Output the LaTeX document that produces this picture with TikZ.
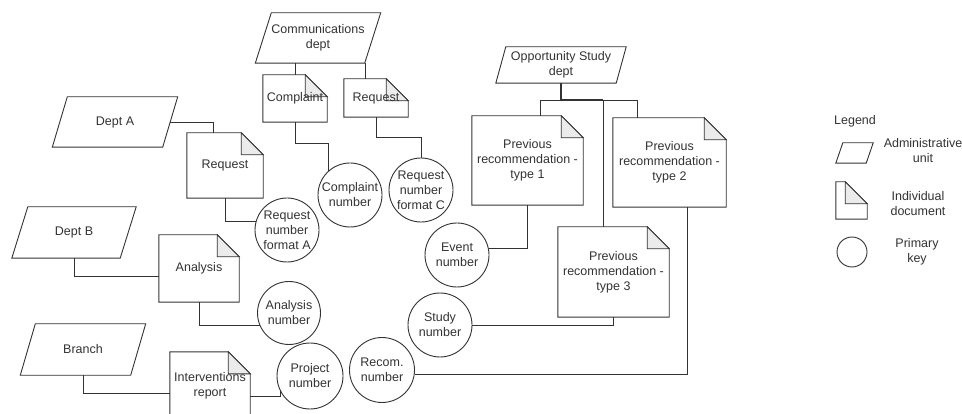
\documentclass[tikz,border=0pt]{standalone}
\usepackage{fontspec}
\setmainfont{Liberation Sans}
\usetikzlibrary{backgrounds}
\definecolor{ink}{HTML}{333333}
\definecolor{foldgray}{HTML}{EBEBEB}
\tikzset{
  shp/.style={draw=ink, line width=0.9pt, line join=miter},
  conn/.style={draw=ink, line width=0.9pt},
  thickconn/.style={draw=ink, line width=1.8pt},
  lbl/.style={text=ink, font=\fontsize{12.5}{15}\selectfont, align=center, inner sep=0pt},
  boxn/.style={lbl, shape=rectangle, draw=none},
  keycirc/.style={lbl, shape=circle, draw=ink, line width=0.9pt},
}
\newcommand\mkdoc[1]{%
  \begin{pgfonlayer}{background}
    \draw[shp,fill=white] (#1.north west) -- ([xshift=-22pt]#1.north east) -- ([yshift=-22pt]#1.north east) -- (#1.south east) -- (#1.south west) -- cycle;
    \draw[shp,fill=foldgray] ([xshift=-22pt]#1.north east) -- ([xshift=-22pt,yshift=-22pt]#1.north east) -- ([yshift=-22pt]#1.north east) -- cycle;
  \end{pgfonlayer}}
\newcommand\mkpara[2]{%
  \begin{pgfonlayer}{background}
    \draw[shp,fill=white] ([xshift=#2pt]#1.north west) -- ([xshift=#2pt]#1.north east) -- ([xshift=-#2pt]#1.south east) -- ([xshift=-#2pt]#1.south west) -- cycle;
  \end{pgfonlayer}}
\begin{document}
\begin{tikzpicture}[x=1pt,y=-1pt]
\useasboundingbox (0,0) rectangle (962,414);
\begin{pgfonlayer}{background}
  \fill[white] (0,0) rectangle (962,414);
\end{pgfonlayer}

% administrative units
\node[boxn, minimum width=110pt, minimum height=50pt] (dA) at (115,122) {Dept A};
\mkpara{dA}{7.5}
\node[boxn, minimum width=108pt, minimum height=51pt] (dB) at (74,232.5) {Dept B};
\mkpara{dB}{8}
\node[boxn, minimum width=110pt, minimum height=51pt] (br) at (83,349.5) {Branch};
\mkpara{br}{7.5}
\node[boxn, minimum width=109pt, minimum height=50pt] (cm) at (318,38) {Communications\\dept};
\mkpara{cm}{8}
\node[boxn, minimum width=120pt, minimum height=36pt] (opp) at (561,65) {Opportunity Study\\dept};
\mkpara{opp}{5}

% documents
\node[boxn, minimum width=76pt, minimum height=65pt] (reqA) at (225,165.5) {Request};
\mkdoc{reqA}
\node[boxn, minimum width=80pt, minimum height=67pt] (an) at (199,268.5) {Analysis};
\mkdoc{an}
\node[boxn, minimum width=80pt, minimum height=67pt] (iv) at (210,385.5) {Interventions\\report};
\mkdoc{iv}
\node[boxn, minimum width=64pt, minimum height=47pt] (comp) at (295,98.5) {Complaint};
\mkdoc{comp}
\node[boxn, minimum width=64pt, minimum height=38pt] (reqC) at (376,98) {Request};
\mkdoc{reqC}
\node[boxn, minimum width=111pt, minimum height=89pt] (p1) at (527.5,160.5) {Previous\\recommendation -\\type 1};
\mkdoc{p1}
\node[boxn, minimum width=113pt, minimum height=89pt] (p2) at (669.5,162.5) {Previous\\recommendation -\\type 2};
\mkdoc{p2}
\node[boxn, minimum width=111pt, minimum height=90pt] (p3) at (613.5,272) {Previous\\recommendation -\\type 3};
\mkdoc{p3}

% primary keys
\node[keycirc, minimum size=64pt] (cA) at (287,230) {Request\\number\\format A};
\node[keycirc, minimum size=63pt] (cAn) at (289,313) {Analysis\\number};
\node[keycirc, minimum size=66pt] (cP) at (310,376) {Project\\number};
\node[keycirc, minimum size=64pt] (cC) at (350,195) {Complaint\\number};
\node[keycirc, minimum size=64pt] (cRC) at (421,190) {Request\\number\\format C};
\node[keycirc, minimum size=64pt] (cE) at (457,255) {Event\\number};
\node[keycirc, minimum size=64pt] (cS) at (440,325) {Study\\number};
\node[keycirc, minimum size=65pt] (cR) at (382,370) {Recom.\\number};

% connectors
\draw[conn] (dA.east) -| ([xshift=-12pt]reqA.north);
\draw[conn] (reqA.south) |- (cA.165);
\draw[conn] (dB.south) |- ([yshift=-7.5pt]an.west);
\draw[conn] (an.south) |- (cAn.203);
\draw[conn] (br.south) |- ([yshift=-7.5pt]iv.west);
\draw[conn] ([yshift=-10.5pt]iv.east) -| (cP.207);
\draw[conn] (comp.north) -- (comp.north |- cm.south);
\draw[conn] ([xshift=-11pt]reqC.north) -- ([xshift=-11pt]reqC.north |- cm.south);
\draw[conn] (comp.south) -- ++(0,21) -| (cC.131);
\draw[conn] (reqC.south) -- ++(0,20) -| (cRC.north);
\coordinate (j) at (561,100);
\coordinate (j3) at (603,100);
\draw[thickconn] (opp.south) -- (j) -- (j3);
\draw[conn] (j) -| ([xshift=12.5pt]p1.north);
\draw[conn] (j3) -| ([xshift=-32.5pt]p2.north);
\draw[conn] (j3) -| ([xshift=-10.5pt]p3.north);
\draw[conn] (p1.south) |- (cE.11);
\draw[conn] (p3.south) |- (cS.east);
\draw[conn] ([xshift=17.5pt]p2.south) |- (cR.353);

% legend
\node[lbl, anchor=center] (legt) at (855,121) {Legend};
\node[boxn, minimum width=30pt, minimum height=20pt] (lgp) at (854.5,153) {};
\mkpara{lgp}{3.5}
\node[lbl] (lgpt) at (923,151) {Administrative\\unit};
\node[boxn, minimum width=31pt, minimum height=37pt] (lgd) at (851.5,200.5) {};
\mkdoc{lgd}
\node[lbl] (lgdt) at (918,204) {Individual\\document};
\node[keycirc, minimum size=30pt] (lgc) at (852,252) {};
\node[lbl] (lgct) at (917,251.5) {Primary\\key};
\end{tikzpicture}
\end{document}
